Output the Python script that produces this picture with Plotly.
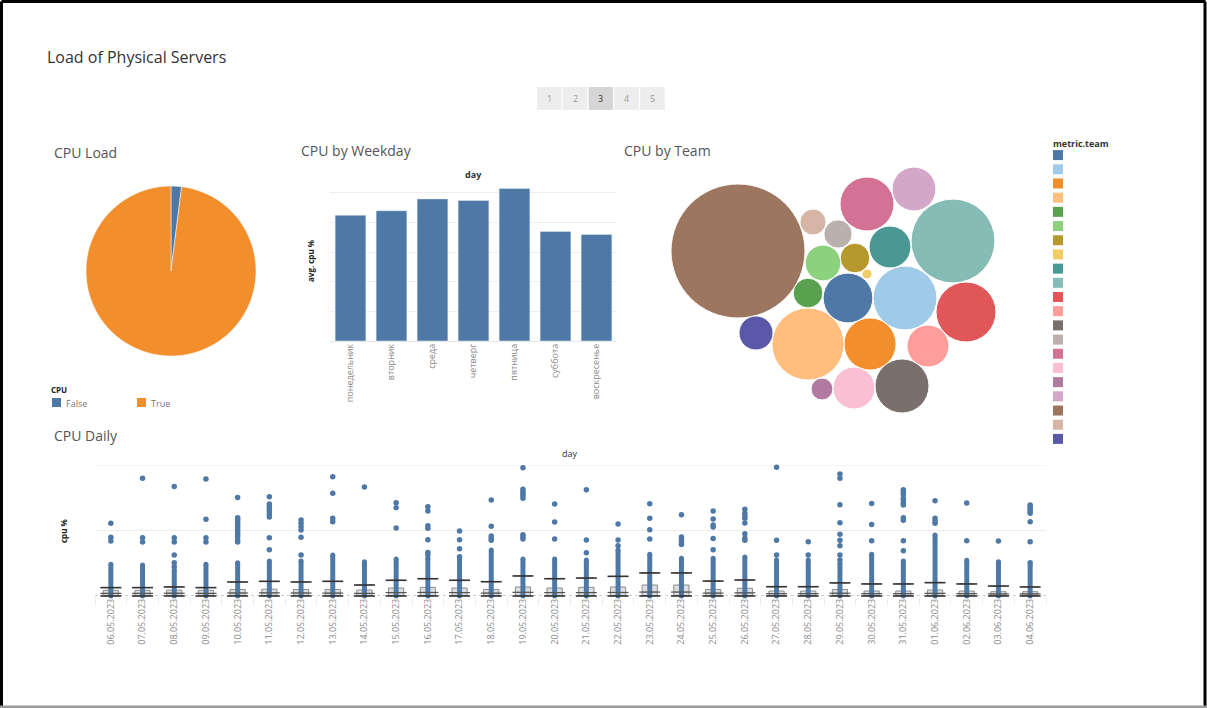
import plotly.graph_objects as go

W, H = 1207, 708
FONT = "Open Sans"
BLUE = "#4e79a7"


def fx(x):
    # pixel -> paper x
    return x / W


def fy(y):
    # pixel -> paper y
    return 1 - y / H


# ---------------- data ----------------
cpu_flag_labels = ["False", "True"]
cpu_flag_share = [2, 98]
cpu_flag_colors = [BLUE, "#f28e2b"]

weekdays = ["понедельник", "вторник", "среда", "четверг", "пятница", "суббота", "воскресенье"]
weekday_avg_cpu = [8.5, 8.8, 9.6, 9.5, 10.3, 7.4, 7.2]

# team names are hidden in the source picture
team_labels = ["team %02d" % i for i in range(1, 22)]
team_cpu = [62, 102, 68, 130, 22, 32, 22, 2.5, 44, 176, 90, 44, 73, 20, 73, 44, 12, 48, 449, 17, 29]
team_colors = ["#4e79a7", "#a0cbe8", "#f28e2b", "#ffbe7d", "#59a14f", "#8cd17d", "#b6992d",
               "#f1ce63", "#499894", "#86bcb6", "#e15759", "#ff9d9a", "#79706e", "#bab0ac",
               "#d37295", "#fabfd2", "#b07aa1", "#d4a6c8", "#9d7660", "#d7b5a6", "#5a58a8"]
# packed-bubble layout (pixel centres of the circles)
bubble_x = [848, 905, 870, 808, 808, 823, 855, 867, 890, 953, 966, 928, 902, 838, 867, 854, 822, 914, 738, 813, 756]
bubble_y = [298, 298, 344, 344, 293, 263, 258, 274, 247, 241, 312, 346, 386, 234, 204, 388, 389, 189, 251, 222, 333]

days = ["06.05.2023", "07.05.2023", "08.05.2023", "09.05.2023", "10.05.2023", "11.05.2023",
        "12.05.2023", "13.05.2023", "14.05.2023", "15.05.2023", "16.05.2023", "17.05.2023",
        "18.05.2023", "19.05.2023", "20.05.2023", "21.05.2023", "22.05.2023", "23.05.2023",
        "24.05.2023", "25.05.2023", "26.05.2023", "27.05.2023", "28.05.2023", "29.05.2023",
        "30.05.2023", "31.05.2023", "01.06.2023", "02.06.2023", "03.06.2023", "04.06.2023"]
daily_lower = [0] * 30
daily_q1 = [0.4] * 30
daily_median = [2.0, 2.0, 2.1, 2.0, 2.3, 2.4, 2.3, 2.2, 2.0, 2.6, 2.7, 2.6, 2.2, 2.8, 2.6,
                2.6, 2.7, 3.0, 3.0, 2.2, 2.4, 1.8, 1.8, 2.1, 1.8, 1.8, 2.0, 1.8, 1.6, 1.6]
daily_q3 = [4.3, 4.3, 4.5, 4.3, 5.0, 5.2, 5.0, 5.0, 4.6, 6.1, 6.6, 6.1, 5.0, 6.9, 6.1,
            6.6, 6.9, 8.4, 8.4, 5.0, 5.9, 3.8, 3.8, 5.0, 3.8, 3.8, 4.6, 3.8, 3.3, 3.3]
daily_upper = [6.4, 6.4, 6.9, 6.4, 10.7, 11.2, 10.7, 11.2, 8.4, 12.0, 13.2, 12.0, 10.9, 15.3, 13.2,
               13.7, 15.0, 17.6, 17.6, 11.4, 12.2, 7.1, 7.1, 10.0, 9.2, 9.2, 10.2, 9.2, 7.6, 6.9]
# top of the dense column of samples per day
daily_dense_top = [24.2, 23.7, 19.8, 24.2, 25.4, 26.7, 26.7, 31.3, 26.2, 28.2, 28.8, 28.8, 35.1, 28.2, 28.2,
                   27.5, 35.1, 31.8, 28.8, 28.8, 29.8, 27.5, 27.5, 25.0, 31.8, 26.7, 46.6, 27.2, 26.2, 23.7]
# separate high samples per day
daily_outliers = [
    [55.5, 44.8, 42.0],
    [89.8, 44.5, 41.3],
    [83.5, 44.5, 41.3, 31.3, 25.4, 22.4],
    [89.3, 58.5, 44.5, 41.3],
    [75.1, 59.8, 58.5, 56.7, 55.0, 52.9, 51.1, 49.1, 47.1, 45.3, 42.7, 41.3],
    [75.8, 70.2, 68.4, 66.4, 64.6, 62.6, 60.3, 44.5, 35.4],
    [58.0, 55.5, 52.9, 50.4, 44.8, 31.3],
    [91.1, 78.4, 59.3, 56.7],
    [83.2],
    [71.2, 67.4, 51.9],
    [68.2, 64.9, 53.7, 51.7, 43.0, 33.3, 31.3],
    [49.6, 43.0, 36.1, 30.0],
    [73.3, 53.2, 45.8, 44.0, 42.5],
    [97.9, 81.4, 79.6, 78.1, 76.6, 74.6, 46.8, 45.3, 43.5],
    [70.2, 56.5, 43.5],
    [81.2, 42.7, 33.1],
    [55.0, 42.7, 38.4],
    [70.4, 59.3, 50.6, 43.5],
    [62.1, 45.0, 42.7, 41.0, 39.4],
    [64.9, 58.8, 54.2, 52.7, 43.8, 35.4],
    [66.2, 63.1, 61.1, 59.3, 55.7, 47.6, 44.0, 42.5],
    [98.2, 42.5, 31.3],
    [41.5, 31.3],
    [93.1, 89.8, 69.7, 56.0, 47.1, 42.5, 38.4, 31.3, 27.5],
    [70.7, 54.5, 42.2],
    [81.1, 79.4, 77.6, 74.6, 72.7, 70.7, 69.5, 59.8, 57.8, 42.2, 34.6],
    [72.7, 59.3, 57.2, 55.5],
    [70.9, 42.2],
    [42.0],
    [69.5, 67.9, 66.4, 64.9, 63.1, 56.7, 41.5, 25.4],
]

pages = ["1", "2", "3", "4", "5"]
current_page = "3"

fig = go.Figure()

# ---------------- CPU Load pie ----------------
fig.add_trace(go.Pie(
    labels=cpu_flag_labels, values=cpu_flag_share, sort=False, direction="clockwise",
    marker=dict(colors=cpu_flag_colors, line=dict(color="white", width=0.5)),
    textinfo="none", hoverinfo="label+percent", showlegend=False,
    domain=dict(x=[fx(86), fx(256)], y=[fy(356), fy(186)]),
))

# ---------------- CPU by Weekday bars ----------------
fig.add_trace(go.Bar(x=weekdays, y=weekday_avg_cpu, marker_color=BLUE, xaxis="x", yaxis="y",
                     showlegend=False))

# ---------------- CPU by Team bubbles ----------------
fig.add_trace(go.Scatter(
    x=bubble_x, y=bubble_y, mode="markers", text=team_labels, customdata=team_cpu,
    hovertemplate="%{text}: %{customdata}<extra></extra>",
    marker=dict(size=team_cpu, sizemode="area", sizeref=0.05, color=team_colors,
                opacity=1, line=dict(color="white", width=1)),
    xaxis="x2", yaxis="y2", showlegend=False, cliponaxis=False,
))

# team colour legend (labels hidden in the source)
fig.add_trace(go.Scatter(
    x=[0] * len(team_labels), y=team_labels, mode="markers",
    marker=dict(symbol="square", size=10, color=team_colors),
    xaxis="x3", yaxis="y3", showlegend=False, hoverinfo="y", cliponaxis=False,
))

# ---------------- CPU Daily ----------------
col_x, col_y = [], []
for d, top in zip(days, daily_dense_top):
    col_x += [d, d, None]
    col_y += [0, top, None]
fig.add_trace(go.Scatter(
    x=col_x, y=col_y, mode="lines+markers", line=dict(color=BLUE, width=5),
    marker=dict(size=5, color=BLUE), xaxis="x4", yaxis="y4", showlegend=False,
    cliponaxis=False, hoverinfo="skip",
))
out_x, out_y = [], []
for d, vals in zip(days, daily_outliers):
    out_x += [d] * len(vals)
    out_y += vals
fig.add_trace(go.Scatter(
    x=out_x, y=out_y, mode="markers", marker=dict(size=5.5, color=BLUE),
    xaxis="x4", yaxis="y4", showlegend=False, cliponaxis=False,
))
fig.add_trace(go.Box(
    x=days, q1=daily_q1, median=daily_median, q3=daily_q3,
    lowerfence=daily_lower, upperfence=daily_upper,
    width=0.48, whiskerwidth=1, boxpoints=False,
    fillcolor="rgba(200,200,200,0.6)", line=dict(color="#8c8c8c", width=1),
    xaxis="x4", yaxis="y4", showlegend=False,
))
# dark whisker caps, Tableau style
fig.add_trace(go.Scatter(
    x=days + days, y=daily_upper + daily_lower, mode="markers",
    marker=dict(symbol="line-ew", size=15, line=dict(color="#333333", width=1.6)),
    xaxis="x4", yaxis="y4", showlegend=False, cliponaxis=False, hoverinfo="skip",
))
fig.add_trace(go.Scatter(
    x=days, y=daily_median, mode="markers",
    marker=dict(symbol="line-ew", size=15, line=dict(color="#555555", width=1.2)),
    xaxis="x4", yaxis="y4", showlegend=False, cliponaxis=False, hoverinfo="skip",
))

tick_font = dict(family=FONT, size=9, color="#8a8a8a")

fig.update_layout(
    width=W, height=H, margin=dict(l=0, r=0, t=0, b=0),
    paper_bgcolor="white", plot_bgcolor="white",
    font=dict(family=FONT, color="#555"),
    bargap=0.25, showlegend=False,
    xaxis=dict(domain=[fx(330), fx(617)], anchor="y", tickangle=-90, tickfont=tick_font,
               showgrid=False, showline=False, ticks="", fixedrange=True),
    yaxis=dict(domain=[fy(341), fy(185)], anchor="x", range=[0, 10.54], tick0=0, dtick=2,
               showticklabels=False, gridcolor="#eeeeee", zeroline=True,
               zerolinecolor="#e6e6e6", zerolinewidth=1, fixedrange=True),
    xaxis2=dict(domain=[fx(650), fx(1020)], anchor="y2", range=[650, 1020], visible=False),
    yaxis2=dict(domain=[fy(430), fy(160)], anchor="x2", range=[430, 160], visible=False),
    xaxis3=dict(domain=[fx(1050), fx(1066)], anchor="y3", range=[-1, 1], visible=False),
    yaxis3=dict(domain=[fy(446), fy(148)], anchor="x3", type="category",
                range=[20.5, -0.5], visible=False),
    xaxis4=dict(domain=[fx(95), fx(1046)], anchor="y4", type="category",
                categoryorder="array", categoryarray=days, range=[-0.5, len(days) - 0.5],
                tickangle=-90, tickfont=tick_font,
                showgrid=False, ticks="outside", tickson="boundaries", ticklen=8,
                tickcolor="#efefef", showline=False, fixedrange=True),
    yaxis4=dict(domain=[fy(596), fy(465)], anchor="x4", range=[0, 100], tick0=0, dtick=50,
                showticklabels=False, gridcolor="#ececec", zeroline=False, fixedrange=True),
)

# top gridline and dotted baseline of the daily chart
fig.add_shape(type="line", xref="paper", yref="y4", x0=fx(95), x1=fx(1046), y0=100, y1=100,
              line=dict(color="#ececec", width=1), layer="below")
fig.add_shape(type="line", xref="paper", yref="y4", x0=fx(95), x1=fx(1046), y0=0, y1=0,
              line=dict(color="#9a9a9a", width=1, dash="dot"), layer="below")


# ---------------- texts ----------------
def note(text, x, y, size=14, color="#555", xanchor="left", yanchor="middle", angle=0, bold=False):
    fig.add_annotation(text="<b>%s</b>" % text if bold else text, x=fx(x), y=fy(y),
                       xref="paper", yref="paper", showarrow=False, xanchor=xanchor,
                       yanchor=yanchor, textangle=angle,
                       font=dict(family=FONT, size=size, color=color))


note("Load of Physical Servers", 45, 57, size=16, color="#333")
note("CPU Load", 52, 152)
note("CPU by Weekday", 299, 151)
note("CPU by Team", 622, 151)
note("CPU Daily", 52, 435)
note("day", 473, 175, size=9, color="#333", xanchor="center", bold=True)
note("day", 570, 453, size=9, color="#333", xanchor="center")
note("avg. cpu %", 310, 261, size=8, color="#222", xanchor="center", angle=-90, bold=True)
note("cpu %", 63, 531, size=8, color="#222", xanchor="center", angle=-90, bold=True)
note("metric.team", 1051, 143, size=9, color="#333", bold=True)

# pie legend
note("CPU", 49, 389, size=8, color="#222", bold=True)
for i, (lab, col) in enumerate(zip(cpu_flag_labels, cpu_flag_colors)):
    x0 = 52 + i * 85
    fig.add_shape(type="rect", xref="paper", yref="paper", x0=fx(x0), x1=fx(x0 + 9),
                  y0=fy(407), y1=fy(398), line=dict(width=0), fillcolor=col)
    note(lab, x0 + 12, 403, size=9, color="#777")

# ---------------- pager ----------------
for i, p in enumerate(pages):
    x0 = 537 + i * 25.8
    fig.add_shape(type="rect", xref="paper", yref="paper", x0=fx(x0), x1=fx(x0 + 24.5),
                  y0=fy(110), y1=fy(87), line=dict(width=0),
                  fillcolor="#d6d6d6" if p == current_page else "#ededed")
    note(p, x0 + 12.25, 99, size=9, color="#333" if p == current_page else "#9a9a9a",
         xanchor="center")

# ---------------- screenshot frame ----------------
frame = [(1.5, 1.5, 1205.5, 1.5, "black"), (1.5, 1.5, 1.5, 707, "black"),
         (1205, 1.5, 1205, 707, "black"), (0, 707, 1207, 707, "#9a9a9a")]
for x0, y0, x1, y1, c in frame:
    fig.add_shape(type="line", xref="paper", yref="paper", x0=fx(x0), y0=fy(y0),
                  x1=fx(x1), y1=fy(y1), line=dict(color=c, width=3))

fig.write_html("out.html", config={"displayModeBar": False},
               post_script="document.body.style.margin='0px';")
